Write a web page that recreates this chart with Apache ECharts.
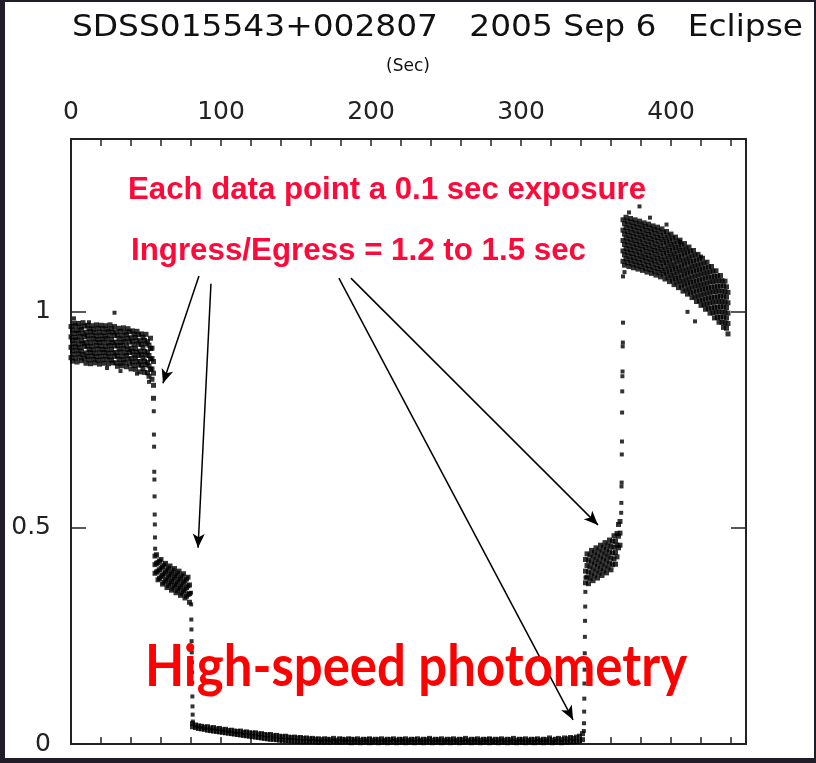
<!DOCTYPE html>
<html><head><meta charset="utf-8">
<script src="https://cdn.jsdelivr.net/npm/echarts@6/dist/echarts.min.js"></script>
<style>html,body{margin:0;padding:0;background:#221c28;}#c{width:816px;height:763px;}</style>
</head><body><div id="c"></div>
<script>
// ---------- text ----------
const titleText = 'SDSS015543+002807   2005 Sep 6   Eclipse';
const axisUnitText = '(Sec)';
const note1 = 'Each data point a 0.1 sec exposure';
const note2 = 'Ingress/Egress = 1.2 to 1.5 sec';
const bigNote = 'High-speed photometry';
const xTickLabels = [0, 100, 200, 300, 400];
const yTickLabels = [0, 0.5, 1];

// ---------- data: each row = [time (s), relative flux x1000 ...] ----------
const preEclipse = [
[0,966,942,918,894],[1,958,934,910,886],[2,974,950,926,902],[3,968,941,919,893],[4,957,935,911,884],
[5,973,951,925,903],[6,965,943,917,895],[7,959,933,909,887],[8,975,949,927,901],[9,967,942,920,892],
[10,953,929,905,881],[11,969,945,921,897],[12,961,937,913,889],[13,954,928,906,880],[14,968,946,920,898],
[15,960,938,912,890],[16,952,930,904,882],[17,970,944,922,896],[18,962,936,914,888],[19,953,929,905,879],
[20,969,945,921,897],[21,961,937,913,889],[22,952,930,906,881],[23,968,944,920,898],[24,960,938,912,890],
[25,954,928,904,880],[26,970,946,922,896],[27,961,936,913,888],[28,953,929,905,882],[29,966,945,921,897],
[30,954,930,906,882],[31,946,922,898,874],[32,962,938,914,890],[33,955,929,907,881],[34,945,923,897,875],
[35,963,937,915,889],[36,953,931,905,883],[37,947,921,899,873],[38,961,939,913,891],[39,954,930,906,880],
[40,940,916,892,868],[41,956,932,908,884],[42,948,924,900,876],[43,941,915,893,867],[44,955,933,907,885],
[45,947,925,899,877],[46,933,909,885,861],[47,949,925,901,877],[48,941,917,893,869],[49,934,908,886,860],
[50,948,926,900,878],[51,931,907,883,859],[52,923,899,875,851],[53,939,915,891,867],[54,916,892,868,844],
[55,885,858,830,800]
];
const wdIngress = [[55.2,770],[55.3,716],[55.4,688],[55.5,630],[55.6,612],[55.7,573],[55.8,531],[55.9,508],[56.0,478],[56.1,452]];
const spotPlateauIn = [
[56,435,415,395],[57,438,418,398],[58,420,400,380],[59,423,403,383],[60,427,407,387],[61,410,390,370],
[62,414,394,374],[63,418,398,378],[64,402,382,362],[65,407,387,367],[66,412,392,372],[67,396,376,356],
[68,401,381,361],[69,406,386,366],[70,390,370,350],[71,395,375,355],[72,400,380,360],[73,384,364,344],
[74,389,369,349],[75,394,374,354],[76,378,358,338],[77,382,362,342],[78,386,366,346],[79,368,348,328]
];
const spotIngress = [[80.0,350],[80.1,323],[80.2,288],[80.3,265],[80.4,238],[80.5,212],[80.6,189],[80.7,166],[80.8,142],[80.9,110],[81.0,87],[81.1,68],[81.2,52]];
const totality = [
[81,47,40],[83,44,38],[85,42,36],[87,41,35],[89,39,34],[91,40,32],[93,37,31],[95,38,30],[97,35,29],[99,36,28],
[101,33,27],[103,34,26],[105,31,25],[107,32,24],[109,30,23],[111,29,22],[113,30,21],[115,27,20],[117,28,19],[119,26,18],
[121,25,17],[123,26,16],[125,23,15],[127,24,14],[129,22,13],[131,21,12],[133,22,11],[135,19,11],[137,20,10],[139,18,9],
[141,17,9],[143,18,8],[145,16,8],[147,15,7],[149,16,7],[151,14,6],[153,15,6],[155,13,5],[157,14,6],[159,12,5],
[161,13,6],[163,11,5],[165,12,4],[167,10,5],[169,12,4],[171,11,5],[173,10,4],[175,13,6],[177,9,4],[179,12,5],
[181,11,4],[183,10,6],[185,12,4],[187,11,3],[189,10,5],[191,12,4],[193,9,3],[195,11,4],[197,10,5],[199,12,3],
[201,9,4],[203,11,5],[205,10,3],[207,12,4],[209,9,5],[211,11,3],[213,10,4],[215,12,5],[217,9,3],[219,11,4],
[221,10,5],[223,12,3],[225,9,4],[227,11,5],[229,10,3],[231,12,4],[233,9,5],[235,11,3],[237,10,4],[239,13,5],
[241,9,3],[243,11,4],[245,10,5],[247,12,3],[249,9,4],[251,11,5],[253,10,3],[255,12,4],[257,9,5],[259,11,3],
[261,10,4],[263,13,5],[265,9,4],[267,11,3],[269,10,5],[271,12,4],[273,9,3],[275,11,5],[277,10,4],[279,12,3],
[281,9,5],[283,11,4],[285,10,3],[287,12,5],[289,9,4],[291,11,3],[293,10,5],[295,13,4],[297,9,3],[299,11,5],
[301,10,4],[303,12,3],[305,9,5],[307,11,4],[309,10,3],[311,12,5],[313,9,4],[315,11,3],[317,10,5],[319,14,4],
[321,9,3],[323,11,5],[325,13,4],[327,10,3],[329,14,5],[331,12,4],[333,15,6],[335,13,5],[337,16,6],[339,18,7],[341,24,10]
];
const wdEgress = [[341.9,30],[342.0,48],[342.1,75],[342.2,105],[342.3,140],[342.4,172],[342.5,210],[342.6,248],[342.7,285],[342.8,318],[342.9,352],[343.0,385]];
const spotPlateauOut = [
[343,427,400,373],[344,440,413,386],[345,425,398,371],[346,437,410,383],[347,448,421,394],[348,432,405,378],
[349,443,416,389],[350,454,427,400],[351,438,411,384],[352,449,422,395],[353,460,433,406],[354,444,417,390],
[355,455,428,401],[356,466,439,412],[357,450,423,396],[358,461,434,407],[359,472,445,418],[360,457,430,403],
[361,469,442,415],[362,482,455,428],[363,470,443,416],[364,487,460,433],[365,508,481,454],[366,515,488,460]
];
const spotEgress = [[366.8,535],[366.9,558],[367.0,596],[367.1,605],[367.2,670],[367.3,700],[367.4,767],[367.5,816],[367.6,851],[367.7,862],[367.8,920],[367.9,929],[368.0,975]];
const postEclipse = [
[368,1213,1189,1165,1141,1117],[369,1204,1180,1156,1132,1108],[370,1219,1195,1171,1147,1123],[371,1210,1186,1162,1138,1114],
[372,1201,1177,1153,1129,1105],[373,1216,1192,1168,1144,1120],[374,1207,1183,1159,1135,1111],[375,1198,1174,1150,1126,1102],
[376,1213,1189,1165,1141,1117],[377,1204,1180,1156,1132,1108],[378,1195,1171,1147,1123,1099],[379,1210,1186,1162,1138,1114],
[380,1201,1177,1153,1129,1105],[381,1192,1168,1144,1120,1096],[382,1206,1182,1158,1134,1110],[383,1197,1173,1149,1125,1101],
[384,1188,1164,1140,1116,1092],[385,1203,1179,1155,1131,1107],[386,1194,1170,1146,1122,1098],[387,1185,1161,1137,1113,1089],
[388,1199,1175,1151,1127,1103],[389,1190,1166,1142,1118,1094],[390,1181,1157,1133,1109,1085],[391,1196,1172,1148,1124,1100],
[392,1187,1163,1139,1115,1091],[393,1177,1153,1129,1105,1081],[394,1192,1168,1144,1120,1096],[395,1183,1159,1135,1111,1087],
[396,1172,1148,1124,1100,1076],[397,1186,1162,1138,1114,1090],[398,1176,1152,1128,1104,1080],[399,1166,1142,1118,1094,1070],
[400,1180,1156,1132,1108,1084],[401,1170,1146,1122,1098,1074],[402,1159,1135,1111,1087,1063],[403,1173,1149,1125,1101,1077],
[404,1163,1139,1115,1091,1067],[405,1152,1128,1104,1080,1056],[406,1166,1142,1118,1094,1070],[407,1155,1131,1107,1083,1059],
[408,1144,1120,1096,1072,1048],[409,1158,1134,1110,1086,1062],[410,1147,1123,1099,1075,1051],[411,1137,1113,1089,1065,1041],
[412,1150,1126,1102,1078,1054],[413,1140,1116,1092,1068,1044],[414,1129,1105,1081,1057,1033],[415,1142,1118,1094,1070,1046],
[416,1131,1107,1083,1059,1035],[417,1120,1096,1072,1048,1024],[418,1133,1109,1085,1061,1037],[419,1122,1098,1074,1050,1026],
[420,1111,1087,1063,1039,1015],[421,1124,1100,1076,1052,1028],[422,1113,1089,1065,1041,1017],[423,1102,1078,1054,1030,1006],
[424,1115,1091,1067,1043,1019],[425,1104,1080,1056,1032,1008],[426,1093,1069,1045,1021,997],[427,1105,1081,1057,1033,1009],
[428,1094,1070,1046,1022,998],[429,1082,1058,1034,1010,986],[430,1095,1071,1047,1023,999],[431,1083,1059,1035,1011,987],
[432,1072,1048,1024,1000,976],[433,1084,1060,1036,1012,988],[434,1072,1048,1024,1000,976],[435,1060,1036,1012,988,964],
[436,1071,1047,1023,999,975],[437,1058,1034,1010,986,962],[438,1045,1021,997,973,949]
];
// isolated points off the main clouds: [time, flux x1000]
const strayPoints = [
[2,985],[12,976],[29,998],[24,870],[33,863],[44,857],[52,838],
[368,1082],[369,1092],[372,1230],[379,1244],[386,1218],[397,1202],[406,1162],[420,1128],[411,1000],[416,978]
];
// annotation arrows in data units: [x0, y0, x1(head), y1(head)]
const arrows = [
  [85.3, 1.083, 61.3, 0.835],
  [93.3, 1.065, 84.7, 0.454],
  [178.6, 1.078, 334.7, 0.056],
  [186.6, 1.078, 351.3, 0.507]
];

// ---------- build ----------
function toPoints(rows) {
  const out = [];
  rows.forEach(r => { for (let j = 1; j < r.length; j++) out.push([r[0], r[j] / 1000]); });
  return out;
}
const densePoints = toPoints([].concat(preEclipse, spotPlateauIn, totality, spotPlateauOut, postEclipse));
const sparsePoints = toPoints([].concat(wdIngress, spotIngress, wdEgress, spotEgress, strayPoints));

const measureCtx = document.createElement('canvas').getContext('2d');
function fitScale(text, font, width) { measureCtx.font = font; return width / measureCtx.measureText(text).width; }

const titleFont = '31px "DejaVu Sans"';
const noteFont = 'bold 31px "Liberation Sans"';
const bigFont = 'bold 57px Lato';
const noteColor = '#fe0a3a';

function textEl(text, font, x, y, width, fill, align) {
  const el = { type: 'text', x: x, y: y, z: 50, silent: true,
    style: { text: text, font: font, fill: fill, textAlign: align || 'left', align: align || 'left',
             textVerticalAlign: 'middle', verticalAlign: 'middle' } };
  if (width) el.scaleX = fitScale(text, font, width);
  return el;
}

const axisColor = '#222';
const labelStyle = { color: axisColor, fontFamily: 'DejaVu Sans', fontSize: 25 };

const chart = echarts.init(document.getElementById('c'));
chart.setOption({
  animation: false,
  backgroundColor: '#221c28',
  grid: { left: 71, right: 70, top: 139, bottom: 19 },
  graphic: [
    { type: 'rect', z: -10, silent: true, shape: { x: 5, y: 2, width: 809, height: 756 }, style: { fill: '#ffffff' } },
    textEl(titleText, titleFont, 72, 28, 731, '#111'),
    textEl(axisUnitText, '17px "DejaVu Sans"', 408, 67, null, '#111', 'center'),
    textEl(note1, noteFont, 128, 190, 518, noteColor),
    textEl(note2, noteFont, 131, 251, 455, noteColor),
    textEl(bigNote, bigFont, 145, 668, 542, '#ff0000')
  ],
  xAxis: [
    { type: 'value', position: 'bottom', min: 0, max: 450, interval: 20,
      axisLine: { show: true, onZero: false, lineStyle: { color: axisColor, width: 2 } },
      axisTick: { show: true, inside: true, length: 7, lineStyle: { color: axisColor, width: 1.5 } },
      axisLabel: { show: false }, splitLine: { show: false } },
    { type: 'value', position: 'top', min: 0, max: 450, interval: 20,
      axisLine: { show: true, onZero: false, lineStyle: { color: axisColor, width: 2 } },
      axisTick: { show: true, inside: true, length: 7, lineStyle: { color: axisColor, width: 1.5 } },
      axisLabel: { show: true, margin: 14, ...labelStyle,
        formatter: v => (xTickLabels.indexOf(v) >= 0 ? String(v) : '') },
      splitLine: { show: false } }
  ],
  yAxis: [
    { type: 'value', position: 'left', min: 0, max: 1.4, interval: 0.5,
      axisLine: { show: true, onZero: false, lineStyle: { color: axisColor, width: 2 } },
      axisTick: { show: true, inside: true, length: 15, lineStyle: { color: axisColor, width: 1.5 } },
      axisLabel: { show: true, margin: 20, ...labelStyle,
        formatter: v => (yTickLabels.indexOf(Math.round(v * 10) / 10) >= 0 ? String(Math.round(v * 10) / 10) : '') },
      splitLine: { show: false } },
    { type: 'value', position: 'right', min: 0, max: 1.4, interval: 0.5,
      axisLine: { show: true, onZero: false, lineStyle: { color: axisColor, width: 2 } },
      axisTick: { show: true, inside: true, length: 15, lineStyle: { color: axisColor, width: 1.5 } },
      axisLabel: { show: false }, splitLine: { show: false } }
  ],
  series: [{
    type: 'scatter', xAxisIndex: 0, yAxisIndex: 0,
    symbol: 'rect', symbolSize: 5,
    itemStyle: { color: '#000' },
    data: densePoints,
    silent: true,
    markLine: {
      silent: true, animation: false,
      symbol: ['none', 'arrow'], symbolSize: [9, 14],
      label: { show: false },
      lineStyle: { color: '#000', width: 1.5, type: 'solid' },
      emphasis: { disabled: true },
      data: arrows.map(a => [{ coord: [a[0], a[1]] }, { coord: [a[2], a[3]] }])
    }
  }, {
    type: 'scatter', xAxisIndex: 0, yAxisIndex: 0,
    symbol: 'rect', symbolSize: 4,
    itemStyle: { color: '#000' },
    data: sparsePoints,
    silent: true
  }]
});
</script>
</body></html>
